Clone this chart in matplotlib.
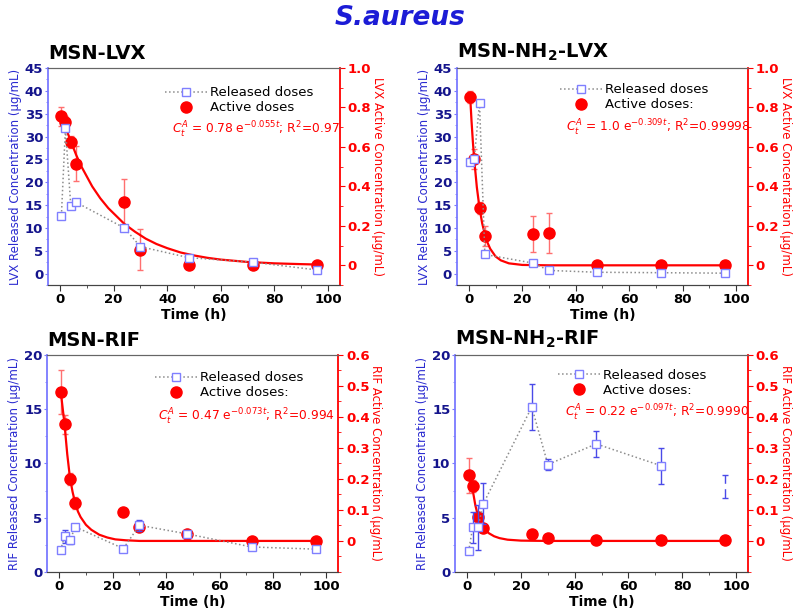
import matplotlib.pyplot as plt
from matplotlib.ticker import MultipleLocator, FuncFormatter

# ---- MSN-LVX ----
lvx_rel_t = [0.5, 2, 4, 6, 24, 30, 48, 72, 96]
lvx_rel = [12.7, 31.8, 14.9, 15.6, 10.0, 5.9, 3.5, 2.5, 0.8]
lvx_rel_err = [0.4, 0.5, 0.4, 0.4, 0.4, 0.4, 0.4, 0.4, 0.4]
lvx_act_t = [0.5, 2, 4, 6, 24, 30, 48, 72, 96]
lvx_act = [0.755, 0.725, 0.625, 0.515, 0.32, 0.08, 0.0, 0.0, 0.0]
lvx_act_err = [0.05, 0.03, 0.03, 0.09, 0.12, 0.105, 0.0, 0.0, 0.0]
lvx_fit_t = [1, 2, 4, 6, 8, 10, 12, 15, 18, 21, 24, 28, 32, 36, 40, 45, 50, 55, 60, 70, 80, 90, 96]
lvx_fit = [0.738, 0.70, 0.63, 0.56, 0.50, 0.45, 0.40, 0.34, 0.29, 0.25, 0.21, 0.17, 0.135,
           0.108, 0.087, 0.065, 0.05, 0.038, 0.029, 0.017, 0.010, 0.006, 0.004]

# ---- MSN-NH2-LVX ----
nlvx_rel_t = [0.5, 2, 4, 6, 24, 30, 48, 72, 96]
nlvx_rel = [24.5, 25.0, 37.3, 4.2, 2.3, 0.7, 0.3, 0.2, 0.1]
nlvx_rel_err = [0.4, 0.4, 0.4, 0.5, 0.4, 0.4, 0.4, 0.4, 0.4]
nlvx_act_t = [0.5, 2, 4, 6, 24, 30, 48, 72, 96]
nlvx_act = [0.853, 0.54, 0.29, 0.15, 0.158, 0.164, 0.0, 0.0, 0.0]
nlvx_act_err = [0.03, 0.05, 0.03, 0.05, 0.09, 0.10, 0.0, 0.0, 0.0]
nlvx_fit_t = [0.5, 1, 1.5, 2, 3, 4, 5, 6, 7, 8, 10, 12, 15, 20, 30, 96]
nlvx_fit = [0.857, 0.734, 0.629, 0.539, 0.396, 0.291, 0.213, 0.157, 0.115, 0.084,
            0.045, 0.025, 0.010, 0.002, 0.0, 0.0]

# ---- MSN-RIF ----
rif_rel_t = [0.5, 2, 4, 6, 24, 30, 48, 72, 96]
rif_rel = [2.0, 3.3, 2.9, 4.15, 2.15, 4.3, 3.5, 2.3, 2.1]
rif_rel_err = [0.1, 0.6, 0.3, 0.1, 0.1, 0.5, 0.1, 0.3, 0.3]
rif_act_t = [0.5, 2, 4, 6, 24, 30, 48, 72, 96]
rif_act = [0.48, 0.376, 0.2, 0.122, 0.092, 0.045, 0.021, 0.0, 0.0]
rif_act_err = [0.07, 0.03, 0.02, 0.02, 0.0, 0.0, 0.0, 0.0, 0.0]
rif_fit_t = [0.5, 1, 2, 3, 4, 5, 6, 7, 8, 10, 12, 15, 18, 21, 25, 30, 96]
rif_fit = [0.49, 0.45, 0.375, 0.28, 0.205, 0.158, 0.122, 0.095, 0.077, 0.052, 0.036,
           0.02, 0.011, 0.005, 0.002, 0.0, 0.0]

# ---- MSN-NH2-RIF ----
nrif_rel_t = [0.5, 2, 4, 6, 24, 30, 48, 72, 96]
nrif_rel = [1.9, 4.1, 4.1, 6.3, 15.2, 9.9, 11.8, 9.8, 7.9]
nrif_rel_err = [0.2, 1.4, 2.1, 1.9, 2.15, 0.5, 1.2, 1.65, 1.05]
nrif_act_t = [0.5, 2, 4, 6, 24, 30, 48, 72, 96]
nrif_act = [0.212, 0.178, 0.077, 0.041, 0.021, 0.011, 0.002, 0.002, 0.002]
nrif_act_err = [0.057, 0.02, 0.01, 0.0, 0.0, 0.0, 0.0, 0.0, 0.0]
nrif_fit_t = [1, 2, 3, 4, 5, 6, 8, 10, 12, 15, 20, 30, 96]
nrif_fit = [0.20, 0.165, 0.115, 0.08, 0.058, 0.043, 0.025, 0.015, 0.009, 0.004, 0.001, 0.0, 0.0]

BLUE_SP = '#7a7aff'
NAVY = '#14148c'
RED = '#ff0000'


def fmt_right(v, pos):
    return '0' if abs(v) < 1e-9 else f'{v:.1f}'


def draw_panel(rect, title, drug, rel_t, rel, rel_err, act_t, act, act_err, fit_t, fit,
               ylim_left, ylim_right, right_top, right_step, active_lbl, eq, leg_xy, eq_xy,
               n_line=None):
    ax = fig.add_axes(rect)
    ax2 = ax.twinx()
    n = len(rel_t) if n_line is None else n_line
    # released doses
    ax.errorbar(rel_t, rel, yerr=rel_err, fmt='none', ecolor='#4a4ae8', elinewidth=1,
                capsize=2.5, capthick=1, zorder=2)
    h_rel, = ax.plot(rel_t[:n], rel[:n], ls=':', color='#8c8c8c', lw=1.1, marker='s',
                     ms=6, mfc='white', mec='#7f7fff', mew=1, zorder=3)
    if n < len(rel_t):
        ax.plot(rel_t[n:], rel[n:], ls='none', marker='s', ms=3, mfc='white', mec='white', zorder=3)
    # active doses
    ax2.errorbar(act_t, act, yerr=act_err, fmt='none', ecolor='#ff7070', elinewidth=1,
                 capsize=2.5, capthick=1, zorder=2)
    ax2.plot(fit_t, fit, color=RED, lw=1.6, zorder=3)
    h_act, = ax2.plot(act_t, act, ls='none', marker='o', ms=8, color=RED, zorder=4)

    ax.set_xlim(-4.5, 104.5)
    ax.set_ylim(*ylim_left)
    ax2.set_ylim(*ylim_right)
    ax.xaxis.set_major_locator(MultipleLocator(20))
    ax.xaxis.set_minor_locator(MultipleLocator(10))
    ax.yaxis.set_major_locator(MultipleLocator(5))
    ax.yaxis.set_minor_locator(MultipleLocator(2.5))
    ax2.set_yticks([round(i * right_step, 2) for i in range(int(round(right_top / right_step)) + 1)])
    ax2.yaxis.set_minor_locator(MultipleLocator(right_step / 2))
    ax2.yaxis.set_major_formatter(FuncFormatter(fmt_right))

    ax.tick_params(axis='x', which='both', direction='out', colors='#333333', labelcolor='black',
                   labelsize=9.5, pad=2)
    ax.tick_params(axis='x', which='major', length=4)
    ax.tick_params(axis='x', which='minor', length=2.5)
    ax2.tick_params(axis='x', which='both', top=True, bottom=False, direction='in',
                    labeltop=False, labelbottom=False, colors='#555555')
    ax2.xaxis.set_minor_locator(MultipleLocator(10))
    ax.tick_params(axis='y', which='both', colors=BLUE_SP, labelcolor=NAVY, labelsize=9.5, pad=1)
    ax.tick_params(axis='y', which='major', length=2.5)
    ax.tick_params(axis='y', which='minor', length=1.5)
    ax2.tick_params(axis='y', which='both', colors=RED, labelcolor=RED, labelsize=9.5, pad=2)
    ax2.tick_params(axis='y', which='major', length=3.5)
    ax2.tick_params(axis='y', which='minor', length=2)
    for lab in ax.get_xticklabels() + ax.get_yticklabels() + ax2.get_yticklabels():
        lab.set_fontweight('bold')

    ax.spines['left'].set_color(BLUE_SP)
    ax.spines['left'].set_linewidth(1.3)
    ax2.spines['left'].set_visible(False)
    ax2.spines['right'].set_color(RED)
    ax2.spines['right'].set_linewidth(1.3)
    for a in (ax, ax2):
        a.spines['top'].set_color('#666666')
        a.spines['bottom'].set_color('#444444')
    ax.spines['right'].set_visible(False)

    ax.set_xlabel('Time (h)', fontsize=10, fontweight='bold', labelpad=1)
    ax.set_ylabel(drug + ' Released Concentration (µg/mL)', color='#2a2ad0', fontsize=8.5,
                  labelpad=2)
    ax2.set_ylabel(drug + ' Active Concentration (µg/mL)', color=RED, fontsize=8.5,
                   rotation=270, labelpad=9)

    ax.text(0.0, 1.025, title, transform=ax.transAxes, fontsize=14, fontweight='bold',
            ha='left', va='bottom')
    leg = ax.legend([h_rel, h_act], ['Released doses', active_lbl], loc='upper left',
                    bbox_to_anchor=leg_xy, frameon=False, fontsize=9.5, numpoints=1,
                    handlelength=3.2, handletextpad=0.2, labelspacing=0.15, borderaxespad=0,
                    borderpad=0)
    leg.set_zorder(10)
    ax2.text(eq_xy[0], eq_xy[1], eq, transform=ax.transAxes, color=RED, fontsize=8.8,
             ha='left', va='center')
    ax.set_zorder(ax2.get_zorder() + 1)
    ax.patch.set_visible(False)
    return ax, ax2


fig = plt.figure(figsize=(8, 6.13), dpi=100)
fig.text(0.5, 1 - 18 / 613, 'S.aureus', color='#1c1cd6', fontsize=19, fontweight='bold',
         style='italic', ha='center', va='center')

draw_panel([0.06, 0.535, 0.365, 0.354], 'MSN-LVX', 'LVX',
           lvx_rel_t, lvx_rel, lvx_rel_err, lvx_act_t, lvx_act, lvx_act_err, lvx_fit_t, lvx_fit,
           (-2.5, 45), (-0.1, 1.0), 1.0, 0.2, 'Active doses',
           r'$C_t^A$ = 0.78 e$^{-0.055t}$; R$^2$=0.97', (0.40, 0.915), (0.425, 0.714))

draw_panel([0.571, 0.535, 0.364, 0.354], r'MSN-NH$_\mathbf{2}$-LVX', 'LVX',
           nlvx_rel_t, nlvx_rel, nlvx_rel_err, nlvx_act_t, nlvx_act, nlvx_act_err,
           nlvx_fit_t, nlvx_fit,
           (-2.5, 45), (-0.1, 1.0), 1.0, 0.2, 'Active doses:',
           r'$C_t^A$ = 1.0 e$^{-0.309t}$; R$^2$=0.99998', (0.355, 0.93), (0.375, 0.723))

draw_panel([0.059, 0.067, 0.364, 0.354], 'MSN-RIF', 'RIF',
           rif_rel_t, rif_rel, rif_rel_err, rif_act_t, rif_act, rif_act_err, rif_fit_t, rif_fit,
           (0, 20), (-0.1, 0.6), 0.6, 0.1, 'Active doses:',
           r'$C_t^A$ = 0.47 e$^{-0.073t}$; R$^2$=0.994', (0.37, 0.925), (0.38, 0.714))

draw_panel([0.569, 0.067, 0.366, 0.354], r'MSN-NH$_\mathbf{2}$-RIF', 'RIF',
           nrif_rel_t, nrif_rel, nrif_rel_err, nrif_act_t, nrif_act, nrif_act_err,
           nrif_fit_t, nrif_fit,
           (0, 20), (-0.1, 0.6), 0.6, 0.1, 'Active doses:',
           r'$C_t^A$ = 0.22 e$^{-0.097t}$; R$^2$=0.9990', (0.35, 0.935), (0.375, 0.733),
           n_line=8)

fig.savefig('out.png', dpi=100)
